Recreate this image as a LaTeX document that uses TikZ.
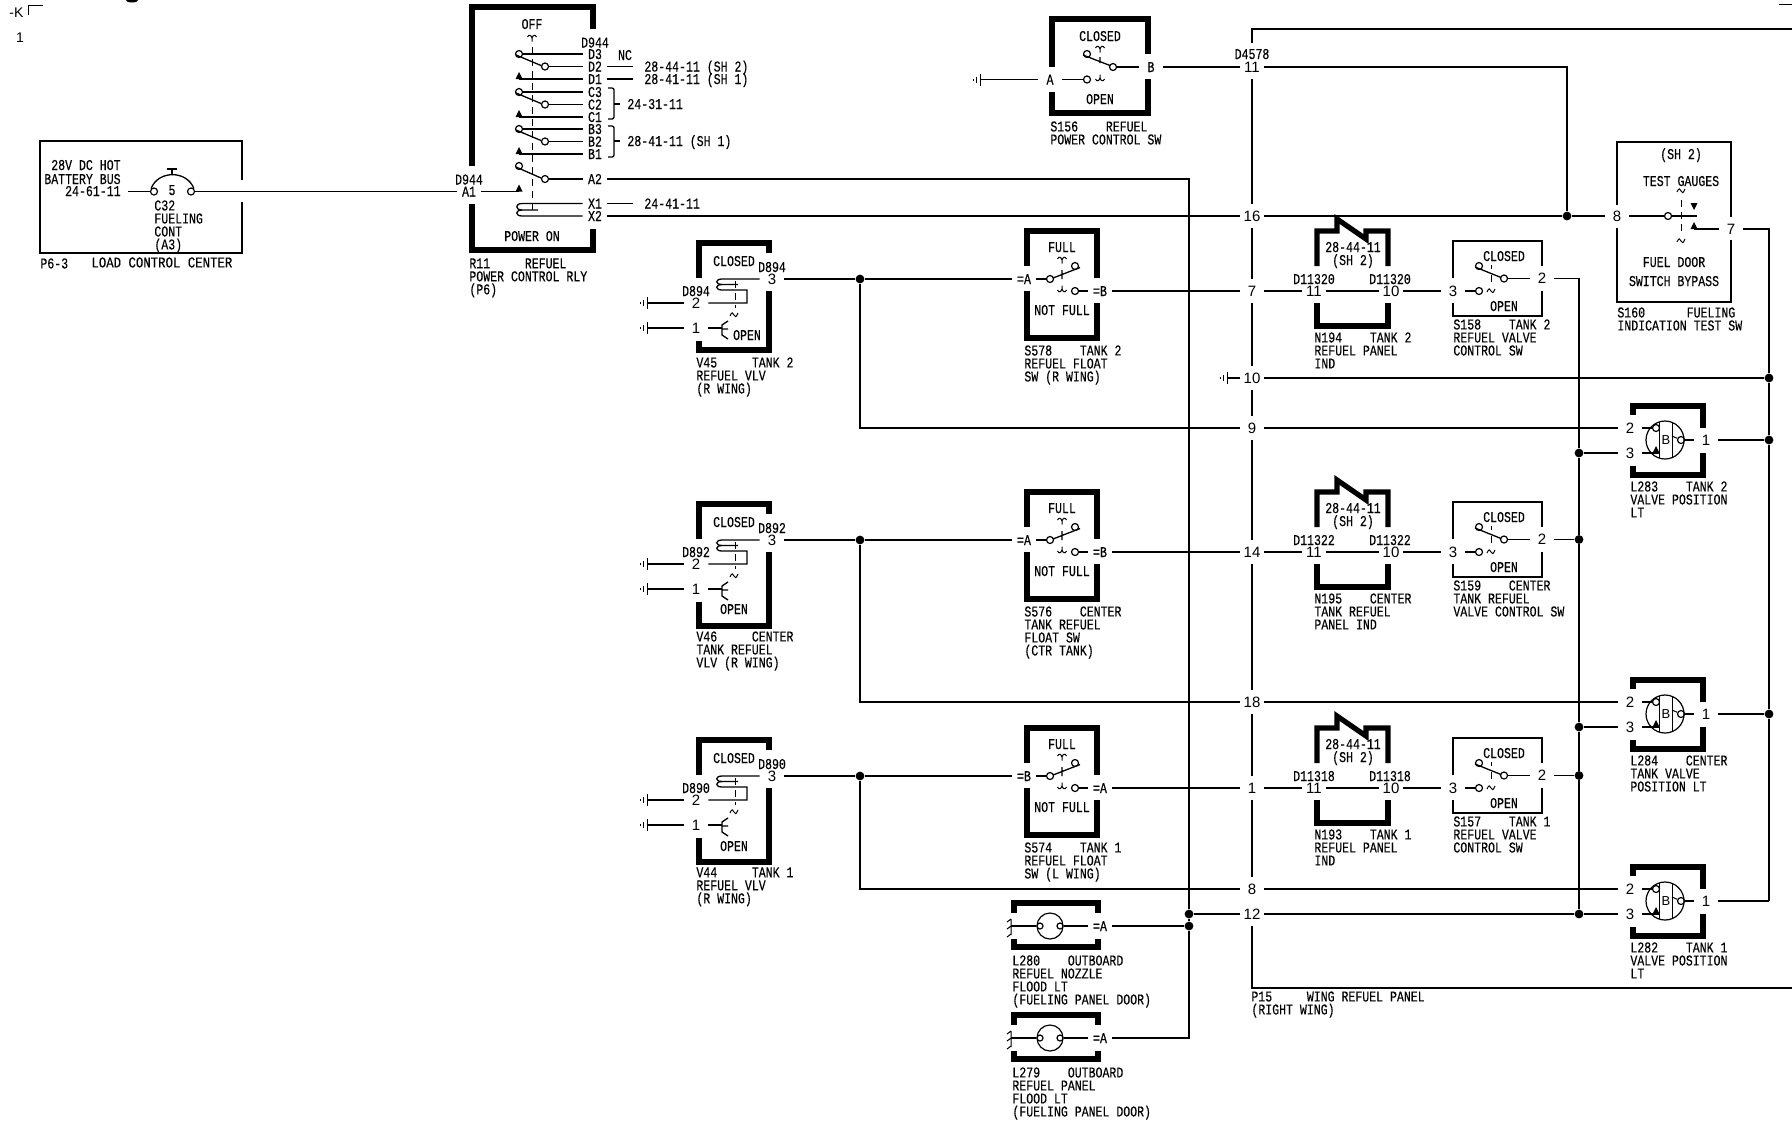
\documentclass[tikz,border=0pt]{standalone}
\usepackage{fontspec}
\setmainfont{Liberation Sans}
\newfontfamily\dwgfont[FakeStretch=0.77,FakeBold=0.25]{Liberation Mono}
\newcommand{\dwgsize}{\dwgfont\fontsize{7.5}{6.5}\selectfont}
\newcommand{\pinsize}{\fontsize{7.5}{9}\selectfont}
\tikzset{
  wire/.style={line width=.65pt},
  sym/.style={line width=.5pt},
  bigbox/.style={line width=2.6pt},
  thinbox/.style={line width=1.2pt},
  pinnum/.style={inner sep=0pt,minimum width=12pt,minimum height=6pt,font=\pinsize,text height=5pt,text depth=0pt},
  pintxt/.style={pinnum,font=\dwgsize},
  captxt/.style={inner sep=0pt,font=\dwgsize,text height=5pt,text depth=0pt},
  note/.style={anchor=north west,yshift=3pt,inner sep=0pt,align=left,font=\dwgsize,execute at begin node=\rule{0pt}{5.5pt}},
  ct/.style={circle,draw,line width=.6pt,inner sep=0pt,minimum size=3.5pt},
  dot/.style={circle,fill=black,inner sep=0pt,minimum size=4.4pt},
  pics/twid/.style={code={\draw[sym] (-4,1) .. controls (-2,-4) and (-1,-2) .. (0,0) .. controls (1,2) and (2,3) .. (4,-2);}},
  pics/archup/.style={code={\draw[sym] (-4.5,-1) .. controls (-3,-4) and (-1,-3) .. (0,0) (4.5,-1) .. controls (3,-4) and (1,-3) .. (0,0) -- (0,3.5);}},
  pics/archdn/.style={code={\draw[sym] (-4.5,1) .. controls (-3,4) and (-1,3) .. (0,0) (4.5,1) .. controls (3,4) and (1,3) .. (0,0) -- (0,-3.5);}},
  pics/triup/.style={code={\fill (-3.5,0) -- (0,-7) -- (3.5,0) -- cycle;}},
  pics/tridn/.style={code={\fill (-3.5,0) -- (0,7) -- (3.5,0) -- cycle;}},
  pics/gnd/.style={code={\draw[sym] (0,-6) -- (0,6); \draw[sym] (-4,-3) -- (-4,3); \draw[sym] (-7,-1) -- (-7,1);}}
}
% l t r b, then the gaps on the left side and on the right side
\newcommand{\gapbox}[9][bigbox]{
  \draw[#1] (#2,#6) |- (#4,#3) -- (#4,#8);
  \draw[#1] (#2,#7) |- (#4,#5) -- (#4,#9);
}
\begin{document}
\begin{tikzpicture}[x=.5pt,y=-.5pt]
  \useasboundingbox (0,0) rectangle (1792,1121);
  % corner marks
  \node[inner sep=0pt,font=\fontsize{7}{8}\selectfont] (mk) at (16.5,13) {-K};
  \node[inner sep=0pt,font=\fontsize{7}{8}\selectfont] (mkn) at (20,38) {1};
  \coordinate (mka) at (28,15);
  \coordinate (mkb) at (43,5);
  \draw[sym] (mka) |- (mkb);
  \coordinate (mkc) at (1779,4);
  \coordinate (mkd) at (1792,4);
  \draw[sym] (mkc) -- (mkd);
  \fill (132,0) ellipse [x radius=6,y radius=2.5];

  % load control center
  \draw[thinbox] (242,180) |- (40,141) |- (242,253) -- (242,202);
  \node[ct] (c32a) at (154,191.5) {};
  \node[ct] (c32b) at (191,191.5) {};
  \draw[wire] (c32a.north west) .. controls (158,170) and (187,170) .. (c32b.north east);
  \draw[wire] (172,174) -- (172,169) (167,169) -- (177,169);
  \node[captxt] (c32n) at (172,190) {5};
  \node[captxt,anchor=east] (batt1) at (121,165) {28V DC HOT};
  \node[captxt,anchor=east] (batt2) at (121,179) {BATTERY BUS};
  \node[captxt,anchor=east] (batt3) at (121,191) {24-61-11};
  \coordinate (batt) at (128,191.5);
  \node[note] (c32t) at (154,206) {C32\\FUELING\\CONT\\(A3)};
  \node[note] (p63) at (40,263) {P6-3};
  \node[note,transform shape,xscale=1.07] (lcc) at (91,262) {LOAD CONTROL CENTER};
  \draw[wire] (batt) -- (c32a);

  % R11
  \gapbox{472}{7}{593}{250}{166}{204}{29}{229}
  \node[captxt] (toff) at (532,24) {OFF};
  \pic at (532,38) {archup};
  \draw[sym,dash pattern=on 3.5pt off 2.5pt] (532,47) -- (532,212);
  \node[captxt] (d944t) at (595,42.5) {D944};
  \node[captxt] (tnc) at (625,55) {NC};
  \foreach \g/\y in {D/54,C/92,B/129}{
    \node[ct] (r\g o) at (519,\y) {};
    \node[ct] (r\g m) at (545,\y+12.5) {};
    \coordinate (r\g t) at (519,\y+25);
    \pic at (r\g t) {triup};
    \node[pintxt] (r\g 3) at (595,\y) {\g3};
    \node[pintxt] (r\g 2) at (595,\y+12.5) {\g2};
    \node[pintxt] (r\g 1) at (595,\y+25) {\g1};
    \draw[wire] (r\g o) -- (r\g 3) (r\g m) -- (r\g 2) (r\g t) -- (r\g 1);
    \draw[wire] (516,\y+1) -- (541,\y+11.5);
  }
  \node[ct] (rAo) at (519,166) {};
  \node[ct] (rAm) at (545,179) {};
  \draw[wire] (516,167) -- (541,178);
  \node[pintxt] (rA2) at (595,179) {A2};
  \draw[wire] (rAm) -- (rA2);
  \coordinate (rAt) at (519,191.5);
  \pic at (rAt) {triup};
  \node[pintxt] (rA1) at (469,191.5) {A1};
  \node[captxt] (d944l) at (469,179.5) {D944};
  \draw[wire] (rA1) -- (rAt);
  \node[pintxt] (rX1) at (595,203.5) {X1};
  \node[pintxt] (rX2) at (595,216) {X2};
  \draw[wire] (rX1) -- (522,203.5) .. controls (515,203.5) and (515,210) .. (522,210) -- (538,210);
  \draw[wire] (522,210) .. controls (515,210) and (515,216) .. (522,216) -- (rX2);
  \node[captxt] (tpon) at (532,236) {POWER ON};
  \node[note] (r11t) at (469,264) {R11~~~~~REFUEL\\POWER CONTROL RLY\\(P6)};
  % R11 references
  \coordinate (eD2) at (633,66.5);
  \coordinate (eD1) at (633,79);
  \coordinate (eX1) at (633,203.5);
  \draw[wire] (rD2) -- (eD2) (rD1) -- (eD1) (rX1) -- (eX1);
  \node[captxt,anchor=west] (tD2) at (644,66.5) {28-44-11 (SH 2)};
  \node[captxt,anchor=west] (tD1) at (644,79) {28-41-11 (SH 1)};
  \node[captxt,anchor=west] (tX1) at (644,203.5) {24-41-11};
  \draw[wire,rounded corners=1pt] (608,88) -| (614,119) -- (608,119);
  \draw[wire] (614,104) -- (620,104);
  \node[captxt,anchor=west] (tC) at (627,104) {24-31-11};
  \draw[wire,rounded corners=1pt] (608,126) -| (614,157) -- (608,157);
  \draw[wire] (614,141) -- (620,141);
  \node[captxt,anchor=west] (tB) at (627,141) {28-41-11 (SH 1)};

  % S156
  \gapbox{1052}{19}{1148}{113}{67}{92}{54}{79}
  \node[captxt] (s156c) at (1100,36) {CLOSED};
  \node[captxt] (s156d) at (1100,99) {OPEN};
  \node[pintxt] (s156a) at (1050,79.5) {A};
  \node[pintxt] (s156b) at (1151,67) {B};
  \node[ct] (s156u) at (1087,54) {};
  \node[ct] (s156l) at (1087,79.5) {};
  \node[ct] (s156r) at (1113,67) {};
  \draw[wire] (1083,55) -- (1110,65.5) (1100,57) -- (1100,63);
  \pic at (1100,49) {archup};
  \pic at (1100,78) {archdn};
  \coordinate (s156g) at (980,79.5);
  \pic at (s156g) {gnd};
  \draw[wire] (s156g) -- (s156a) -- (s156l);
  \draw[wire] (s156r) -- (s156b);
  \node[note] (s156t) at (1050,127) {S156~~~~REFUEL\\POWER CONTROL SW};
  \node[captxt] (d4578) at (1252,54) {D4578};

  % P15 panel
  \draw[thinbox] (1792,29) -- (1252,29) -- (1252,43);
  \foreach \a/\b in {79/204,228/279,303/366,390/416,440/540,564/690,714/776,800/877}
    \draw[thinbox] (1252,\a) -- (1252,\b);
  \draw[thinbox] (1252,926) -- (1252,988) -- (1792,988);
  \foreach \n/\y in {11/67,16/216,7/291,10/378,9/428,14/552,18/702,1/788,8/889,12/914}
    \node[pinnum] (p\n) at (1252,\y) {\n};
  \node[note] (p15t) at (1251,997) {P15~~~~~WING REFUEL PANEL\\(RIGHT WING)};
  \coordinate (p10g) at (1227,378);
  \pic at (p10g) {gnd};
  \draw[wire] (p10g) -- (p10);

  % valves
  \foreach \nm/\dy/\wn/\bb in {v45/0/D894/350,v46/261/D892/365,v44/497/D890/365}{
    \gapbox{699}{243+\dy}{769}{\bb+\dy}{278+\dy}{341+\dy}{253+\dy}{291+\dy}
    \node[captxt] (\nm c) at (734,261+\dy) {CLOSED};
    \node[captxt] (\nm wa) at (772,267+\dy) {\wn};
    \node[captxt] (\nm wb) at (696,291+\dy) {\wn};
    \node[pinnum] (\nm p3) at (772,279+\dy) {3};
    \node[pinnum] (\nm p2) at (696,303+\dy) {2};
    \node[pinnum] (\nm p1) at (696,328+\dy) {1};
    \node[dot] (\nm j) at (860,279+\dy) {};
    \coordinate (\nm ga) at (647,303+\dy);
    \coordinate (\nm gb) at (647,328+\dy);
    \pic at (\nm ga) {gnd};
    \pic at (\nm gb) {gnd};
    \pic at (734,315+\dy) {twid};
    \draw[wire] (\nm ga) -- (\nm p2);
    \draw[wire] (\nm gb) -- (\nm p1);
    \draw[wire] (\nm p3) -- (722,279+\dy) .. controls (715,279+\dy) and (715,284.5+\dy) .. (722,284.5+\dy) -- (738,284.5+\dy);
    \draw[wire] (722,284.5+\dy) .. controls (715,284.5+\dy) and (715,290+\dy) .. (722,290+\dy) -- (747,290+\dy) -- (747,303+\dy) -- (\nm p2);
    \draw[sym,dash pattern=on 3.5pt off 2.5pt] (735,281+\dy) -- (735,308+\dy);
    \draw[wire] (\nm p1) -- (722,328+\dy);
    \draw[wire] (728,321+\dy) -- (722,325+\dy) -- (722,335+\dy) -- (728,339+\dy) (722,329+\dy) -- (728,329+\dy);
    \draw[wire] (\nm p3) -- (\nm j);
  }
  \node[captxt] (v45o) at (747,335) {OPEN};
  \node[captxt] (v46o) at (734,609) {OPEN};
  \node[captxt] (v44o) at (734,846) {OPEN};
  \node[note] (v45t) at (696,363) {V45~~~~~TANK 2\\REFUEL VLV\\(R WING)};
  \node[note] (v46t) at (696,637) {V46~~~~~CENTER\\TANK REFUEL\\VLV (R WING)};
  \node[note] (v44t) at (696,873) {V44~~~~~TANK 1\\REFUEL VLV\\(R WING)};

  % float switches
  \foreach \nm/\dy/\pa/\pb in {s578/0/A/B,s576/261/A/B,s574/497/B/A}{
    \gapbox{1027}{231+\dy}{1097}{338+\dy}{266+\dy}{291+\dy}{278+\dy}{303+\dy}
    \node[captxt] (\nm f) at (1062,247+\dy) {FULL};
    \node[captxt] (\nm n) at (1062,310+\dy) {NOT FULL};
    \node[pintxt] (\nm pl) at (1024,279+\dy) {=\pa};
    \node[pintxt] (\nm pr) at (1100,291+\dy) {=\pb};
    \node[ct] (\nm a) at (1050,279+\dy) {};
    \node[ct] (\nm u) at (1075,266+\dy) {};
    \node[ct] (\nm l) at (1075,291+\dy) {};
    \draw[wire] (\nm pl) -- (\nm a);
    \draw[wire] (\nm l) -- (\nm pr);
    \draw[wire] (1053,278+\dy) -- (1080,267.5+\dy) (1062,270+\dy) -- (1062,279+\dy);
    \pic at (1062,260+\dy) {archup};
    \pic at (1062,289+\dy) {archdn};
  }
  \node[note] (s578t) at (1024,351) {S578~~~~TANK 2\\REFUEL FLOAT\\SW (R WING)};
  \node[note] (s576t) at (1024,612) {S576~~~~CENTER\\TANK REFUEL\\FLOAT SW\\(CTR TANK)};
  \node[note] (s574t) at (1024,848) {S574~~~~TANK 1\\REFUEL FLOAT\\SW (L WING)};

  % refuel panel indicators and valve control switches
  \foreach \nm/\sw/\dy/\wn in {n194/s158/0/D11320,n195/s159/261/D11322,n193/s157/497/D11318}{
    \draw[bigbox] (1317,266+\dy) -- (1317,231+\dy) -- (1337,231+\dy) -- (1337,219+\dy) -- (1366,239+\dy) -- (1366,231+\dy) -- (1388,231+\dy) -- (1388,266+\dy);
    \draw[bigbox] (1317,303+\dy) |- (1388,326+\dy) -- (1388,303+\dy);
    \node[captxt] (\nm r) at (1353,247+\dy) {28-44-11};
    \node[captxt] (\nm s) at (1353,260+\dy) {(SH 2)};
    \node[captxt] (\nm wa) at (1314,279+\dy) {\wn};
    \node[captxt] (\nm wb) at (1390,279+\dy) {\wn};
    \node[pinnum] (\nm pa) at (1314,291+\dy) {11};
    \node[pinnum] (\nm pb) at (1391,291+\dy) {10};
    \draw[wire] (\nm pa) -- (\nm pb);
    \gapbox[thinbox]{1453}{241+\dy}{1542}{316+\dy}{278+\dy}{303+\dy}{266+\dy}{291+\dy}
    \node[captxt] (\sw c) at (1504,256+\dy) {CLOSED};
    \node[captxt] (\sw o) at (1504,306+\dy) {OPEN};
    \node[pinnum] (\sw p3) at (1453,291+\dy) {3};
    \node[pinnum] (\sw p2) at (1542,278.5+\dy) {2};
    \node[ct] (\sw u) at (1479,266+\dy) {};
    \node[ct] (\sw l) at (1479,291+\dy) {};
    \node[ct] (\sw r) at (1504,278.5+\dy) {};
    \draw[wire] (1475,267+\dy) -- (1501,277.5+\dy);
    \draw[sym] (1491,265+\dy) -- (1491,269+\dy) (1491,275+\dy) -- (1491,282+\dy);
    \pic at (1491,291+\dy) {twid};
    \draw[wire] (\nm pb) -- (\sw p3) -- (\sw l);
    \draw[wire] (\sw r) -- (\sw p2);
  }
  \node[note] (n194t) at (1314,338) {N194~~~~TANK 2\\REFUEL PANEL\\IND};
  \node[note] (n195t) at (1314,599) {N195~~~~CENTER\\TANK REFUEL\\PANEL IND};
  \node[note] (n193t) at (1314,835) {N193~~~~TANK 1\\REFUEL PANEL\\IND};
  \node[note] (s158t) at (1453,325) {S158~~~~TANK 2\\REFUEL VALVE\\CONTROL SW};
  \node[note] (s159t) at (1453,586) {S159~~~~CENTER\\TANK REFUEL\\VALVE CONTROL SW};
  \node[note] (s157t) at (1453,822) {S157~~~~TANK 1\\REFUEL VALVE\\CONTROL SW};

  % S160
  \gapbox[thinbox]{1617}{142}{1731}{302}{205}{228}{217}{240}
  \node[captxt] (s160h) at (1681,154) {(SH 2)};
  \node[captxt] (s160g) at (1681,181) {TEST GAUGES};
  \node[captxt] (s160d) at (1674,262) {FUEL DOOR};
  \node[captxt] (s160b) at (1674,281) {SWITCH BYPASS};
  \node[pinnum] (s160p8) at (1617,216) {8};
  \node[pinnum] (s160p7) at (1731,229) {7};
  \node[ct] (s160c) at (1668,216) {};
  \coordinate (s160e) at (1697,216);
  \coordinate (s160t) at (1694,229);
  \draw[wire] (s160p8) -- (s160c) -- (s160e);
  \draw[wire] (s160p7) -- (s160t);
  \pic at (s160t) {triup};
  \pic at (1694,203) {tridn};
  \draw[sym,dash pattern=on 3.5pt off 2.5pt] (1681,200) -- (1681,233);
  \pic at (1681,191) {twid};
  \pic at (1681,241) {twid};
  \node[note] (s160n) at (1617,313) {S160~~~~~~FUELING\\INDICATION TEST SW};

  % lights on P15
  \foreach \nm/\dy in {l283/0,l284/274,l282/461}{
    \gapbox{1633}{406+\dy}{1703}{475+\dy}{415+\dy}{466+\dy}{428+\dy}{453+\dy}
    \node[pinnum] (\nm pb) at (1630,428+\dy) {2};
    \node[pinnum] (\nm pc) at (1630,453+\dy) {3};
    \node[pinnum] (\nm pa) at (1706,440+\dy) {1};
    \node[circle,draw,line width=.6pt,inner sep=0pt,minimum size=19pt] (\nm g) at (1665,440+\dy) {};
    \draw[sym] (1659,422+\dy) -- (1659,458+\dy) (1672,422.3+\dy) -- (1672,457.7+\dy);
    \node[inner sep=0pt,font=\fontsize{6.5}{7}\selectfont] (\nm b) at (1666,440+\dy) {B};
    \node[ct] (\nm u) at (1656,428+\dy) {};
    \node[ct] (\nm r) at (1681,440+\dy) {};
    \coordinate (\nm t) at (1656,453+\dy);
    \pic at (\nm t) {triup};
    \draw[sym] (1672,436+\dy) -- (\nm r);
    \draw[wire] (\nm pb) -- (\nm u);
    \draw[wire] (\nm pc) -- (1659,453+\dy);
    \draw[wire] (\nm r) -- (\nm pa);
  }
  \node[note] (l283t) at (1630,487) {L283~~~~TANK 2\\VALVE POSITION\\LT};
  \node[note] (l284t) at (1630,761) {L284~~~~CENTER\\TANK VALVE\\POSITION LT};
  \node[note] (l282t) at (1630,948) {L282~~~~TANK 1\\VALVE POSITION\\LT};

  % flood lights
  \foreach \nm/\dy in {l280/0,l279/112}{
    \gapbox{1014}{903+\dy}{1098}{947+\dy}{913+\dy}{939+\dy}{913+\dy}{939+\dy}
    \node[circle,draw,line width=.6pt,inner sep=0pt,minimum size=13pt] (\nm g) at (1050,926+\dy) {};
    \node[circle,draw,line width=.6pt,inner sep=0pt,minimum size=3pt] (\nm c) at (1040,926+\dy) {};
    \node[circle,draw,line width=.6pt,inner sep=0pt,minimum size=3pt] (\nm d) at (1060,926+\dy) {};
    \node[pintxt] (\nm pa) at (1100,926+\dy) {=A};
    \coordinate (\nm e) at (1011,926+\dy);
    \draw[sym] (1011,919+\dy) -- (1011,935+\dy) (1011,919+\dy) -- (1007,922+\dy) (1011,926+\dy) -- (1007,929+\dy) (1011,934+\dy) -- (1007,937+\dy);
    \draw[wire] (\nm e) -- (\nm c);
    \draw[wire] (\nm d) -- (\nm pa);
  }
  \node[note] (l280t) at (1012,961) {L280~~~~OUTBOARD\\REFUEL NOZZLE\\FLOOD LT\\(FUELING PANEL DOOR)};
  \node[note] (l279t) at (1012,1073) {L279~~~~OUTBOARD\\REFUEL PANEL\\FLOOD LT\\(FUELING PANEL DOOR)};

  % junctions
  \node[dot] (j16) at (1567,216) {};
  \node[dot] (j12a) at (1189,914) {};
  \node[dot] (j12b) at (1189,926) {};
  \foreach \n/\y in {a/453,b/539.5,c/727,d/775.5,e/914}
    \node[dot] (jv\n) at (1579,\y) {};
  \foreach \n/\y in {a/378,b/440,c/714}
    \node[dot] (jr\n) at (1769,\y) {};
  \coordinate (jrd) at (1769,901);

  % main wires
  \draw[wire] (c32b) -- (rA1);
  \draw[wire] (rA2) -| (j12a);
  \draw[wire] (j12a) -- (j12b);
  \draw[wire] (j12b) |- (l279pa);
  \draw[wire] (l280pa) -- (j12b);
  \draw[wire] (s156b) -- (p11);
  \draw[wire] (p11) -| (j16);
  \draw[wire] (rX2) -- (p16) -- (j16) -- (s160p8);
  \draw[wire] (v45j) -- (s578pl);
  \draw[wire] (v46j) -- (s576pl);
  \draw[wire] (v44j) -- (s574pl);
  \draw[wire] (v45j) |- (p9);
  \draw[wire] (v46j) |- (p18);
  \draw[wire] (v44j) |- (p8);
  \draw[wire] (s578pr) -- (p7) -- (n194pa);
  \draw[wire] (s576pr) -- (p14) -- (n195pa);
  \draw[wire] (s574pr) -- (p1) -- (n193pa);
  \draw[wire] (p9) -- (l283pb);
  \draw[wire] (p18) -- (l284pb);
  \draw[wire] (p8) -- (l282pb);
  \draw[wire] (j12a) -- (p12) -- (jve) -- (l282pc);
  \draw[wire] (jva) -- (l283pc);
  \draw[wire] (jvc) -- (l284pc);
  \draw[wire] (s158p2) -| (jva);
  \draw[wire] (jva) -- (jvb) -- (jvc) -- (jvd) -- (jve);
  \draw[wire] (s159p2) -- (jvb);
  \draw[wire] (s157p2) -- (jvd);
  \draw[wire] (p10) -- (jra);
  \draw[wire] (s160p7) -| (jra);
  \draw[wire] (jra) -- (jrb) -- (jrc) -- (jrd);
  \draw[wire] (l283pa) -- (jrb);
  \draw[wire] (l284pa) -- (jrc);
  \draw[wire] (l282pa) -- (jrd);
\end{tikzpicture}
\end{document}
